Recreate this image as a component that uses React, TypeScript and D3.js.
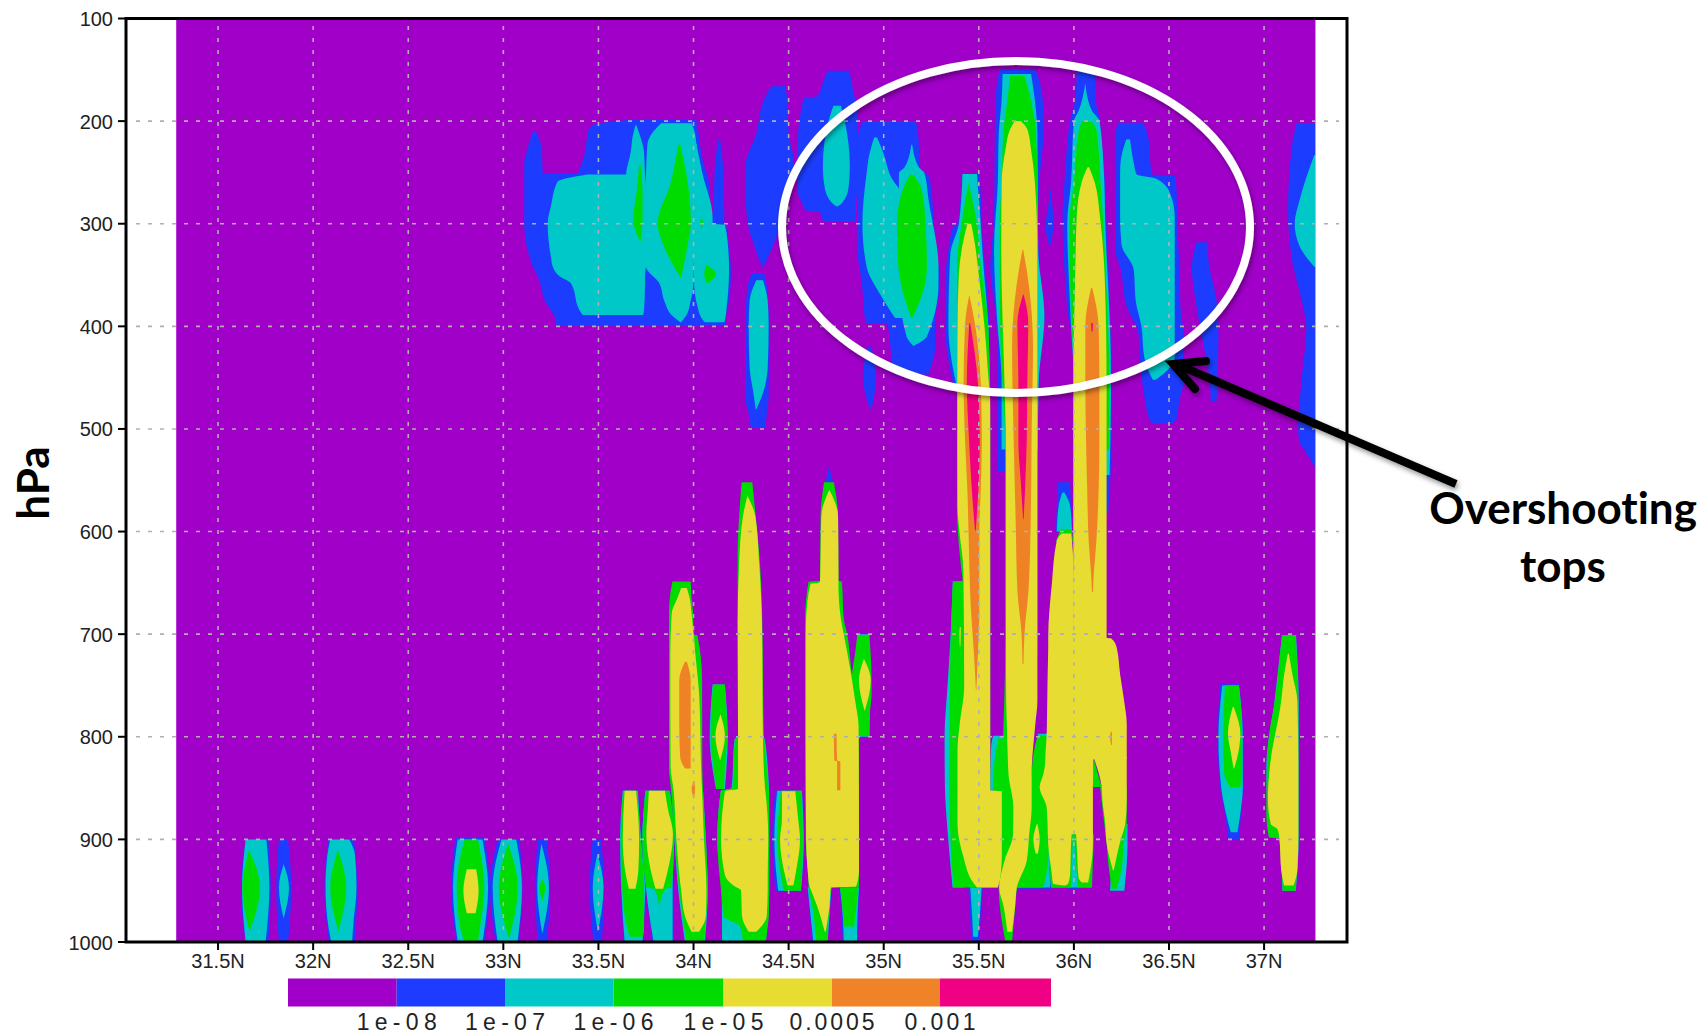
import React from "react";
import * as d3 from "d3";

type Row = [number, number, number]; // [hPa, west latitude, east latitude]

const latTicks = [31.5, 32, 32.5, 33, 33.5, 34, 34.5, 35, 35.5, 36, 36.5, 37];
const latLabels = ["31.5N", "32N", "32.5N", "33N", "33.5N", "34N", "34.5N", "35N", "35.5N", "36N", "36.5N", "37N"];
const pressureTicks = [100, 200, 300, 400, 500, 600, 700, 800, 900, 1000];
const levelLabels = ["1e-08", "1e-07", "1e-06", "1e-05", "0.0005", "0.001"];
const levelColors = ["#a000c8", "#1e3cff", "#00c8c8", "#00dc00", "#e6dc32", "#f08228", "#f00082"];

const blueCells: Row[][] = [
  [[900,31.645,31.765],[947,31.62,31.777],[1000,31.645,31.765]],
  [[900,31.82,31.868],[947,31.806,31.885],[1000,31.82,31.868]],
  [[900,32.08,32.215],[947,32.06,32.232],[1000,32.083,32.218]],
  [[898,32.75,32.9],[947,32.725,32.928],[1000,32.753,32.9]],
  [[900,32.97,33.085],[947,32.93,33.1],[1000,32.96,33.08]],
  [[900,33.18,33.228],[947,33.167,33.246],[1000,33.18,33.23]],
  [[900,33.47,33.514],[947,33.453,33.53],[1000,33.474,33.518]],
  [[852.6,33.628,33.707],[900,33.614,33.724],[948,33.618,33.745],[1000,33.635,33.735]],
  [[852.6,33.745,33.877],[900,33.729,33.9],[948,33.75,33.893],[1000,33.785,33.893]],
  [[852.6,34.43,34.57],[900,34.414,34.58],[950,34.43,34.565]],
  [[536,34.712,34.712],[552,34.694,34.733]],
  [[947,34.6,34.725],[1000,34.625,34.705]],
  [[947,34.77,34.87],[1000,34.785,34.865]],
  [[947,35.445,35.52],[975,35.455,35.51],[1000,35.46,35.5]],
  [[920,35.975,36.03],[948,35.965,36.03]],
  [[900,35.8,35.875],[948,35.69,35.885]],
  [[748.7,36.771,36.868],[800,36.755,36.89],[850,36.77,36.89],[870,36.79,36.88],[900,36.812,36.87]],
  [[210,33.155,33.17],[225,33.13,33.2],[241,33.11,33.205],[251,33.11,33.207],[251.5,33.11,34.075],[280,33.11,34.09],[299.6,33.11,34.115],[300,33.11,34.17],[332,33.137,34.19],[342,33.155,34.196],[351,33.18,34.196],[377,33.224,34.185],[390,33.268,34.172],[399.4,33.28,34.17]],
  [[199,33.655,34.015],[204,33.47,34.018],[210,33.445,34.025],[230,33.43,34.04],[252,33.39,34.07]],
  [[218,34.13,34.14],[245,34.112,34.155],[300,34.105,34.162]],
  [[348,34.31,34.37],[360,34.285,34.385],[400,34.272,34.397],[470,34.272,34.395],[485,34.29,34.385],[499,34.302,34.38]],
  [[166,34.41,34.485],[175,34.38,34.49],[215,34.325,34.503],[241,34.275,34.529],[262,34.272,34.52],[300,34.285,34.46],[316,34.31,34.43],[342,34.36,34.368]],
  [[151,34.705,34.815],[160,34.685,34.83],[176,34.65,34.845],[177,34.585,34.85],[190,34.565,34.86],[221,34.548,34.862],[267,34.546,34.86],[280,34.57,34.855],[287,34.59,34.855],[288,34.66,34.855],[298,34.68,34.85]],
  [[200,34.89,35.165],[204,34.88,35.175],[218,34.862,35.183],[245,34.862,35.19],[255,34.862,35.24],[325,34.862,35.275],[358,34.885,35.297],[397,34.905,35.27],[398,35.02,35.27],[420,35.035,35.27],[447,35.05,35.235]],
  [[420,34.915,34.935],[449,34.89,34.96],[481,34.93,34.935]],
  [[251.6,35.411,35.503],[300,35.39,35.516],[303,35.365,35.516],[325,35.34,35.525],[355,35.325,35.54],[400,35.323,35.555],[460,35.37,35.56]],
  [[150,35.612,35.796],[163,35.595,35.822],[200,35.585,35.843],[270,35.582,35.815],[300,35.578,35.81],[342,35.56,35.82],[390,35.59,35.845],[450,35.6,35.815],[500,35.597,35.81],[542,35.6,35.81]],
  [[267,35.875,35.878],[290,35.86,35.89],[300,35.85,35.892],[322,35.872,35.876]],
  [[152,36.015,36.111],[180,36.006,36.115],[200,35.98,36.137],[228,35.962,36.145],[260,35.95,36.165],[293,35.94,36.17],[358,35.955,36.185],[390,35.97,36.19],[420,36.0,36.195],[500,36.0,36.2],[583,36.0,36.18]],
  [[552,35.915,35.98],[600,35.905,35.99]],
  [[201.5,36.234,36.365],[215,36.216,36.39],[252,36.216,36.41],[253,36.216,36.535],[325,36.216,36.55],[342,36.243,36.555],[381,36.278,36.56],[407,36.339,36.575],[433,36.348,36.575],[455,36.36,36.575],[472,36.374,36.555],[490,36.395,36.54],[495,36.41,36.52]],
  [[318,36.645,36.7],[342,36.62,36.712],[375,36.64,36.75],[407,36.67,36.76],[455,36.715,36.755],[473,36.72,36.75]],
  [[202,37.17,37.27],[228,37.144,37.27],[286,37.126,37.27],[332,37.144,37.27],[381,37.205,37.27],[400,37.222,37.27],[455,37.196,37.27],[499,37.179,37.27],[512,37.185,37.27],[521,37.214,37.27],[537,37.268,37.27]],
];

const cyanCells: Row[][] = [
  [[900,31.645,31.754],[947,31.626,31.77],[1000,31.645,31.75]],
  [[924,31.845,31.845],[947,31.82,31.873],[977,31.845,31.845]],
  [[900,32.09,32.19],[915,32.075,32.22],[947,32.065,32.228],[985,32.08,32.21],[1000,32.095,32.205]],
  [[900,32.76,32.89],[947,32.735,32.92],[1000,32.76,32.89]],
  [[900,32.99,33.068],[947,32.944,33.098],[1000,32.97,33.075]],
  [[904,33.2,33.2],[947,33.178,33.24],[992,33.205,33.205]],
  [[914,33.495,33.495],[947,33.47,33.527],[990,33.497,33.497]],
  [[852.6,33.628,33.707],[900,33.614,33.724],[948,33.62,33.745],[1000,33.638,33.732]],
  [[852.6,33.747,33.875],[900,33.731,33.898],[948,33.75,33.89],[1000,33.79,33.89]],
  [[852,33.885,34.05],[900,33.9,34.065],[950,33.92,34.075],[1000,33.955,34.06]],
  [[749,34.1,34.165],[800,34.085,34.18],[851,34.118,34.165]],
  [[800,34.232,34.37],[803,34.215,34.375],[850,34.2,34.397],[853,34.143,34.398],[900,34.125,34.398],[950,34.148,34.398],[1000,34.15,34.38]],
  [[852.6,34.44,34.57],[900,34.425,34.58],[950,34.445,34.565]],
  [[947,34.6,34.725],[1000,34.63,34.705]],
  [[947,34.77,34.87],[975,34.785,34.862],[1000,34.79,34.86]],
  [[700,34.86,34.925],[800,34.87,34.925]],
  [[648.7,35.363,35.42],[700,35.352,35.42],[752,35.335,35.42],[800,35.32,35.42],[850,35.322,35.42],[885,35.333,35.42],[947,35.362,35.42]],
  [[799,35.575,35.66],[810,35.565,35.66],[852,35.56,35.66],[853,35.6,35.66],[880,35.625,35.66],[925,35.615,35.65]],
  [[797,35.81,35.86],[880,35.8,35.865],[947,35.69,35.875]],
  [[947,35.455,35.515],[975,35.465,35.505],[995,35.47,35.495]],
  [[562,35.94,35.95],[575,35.92,35.98],[600,35.91,35.99]],
  [[895,35.86,36.1],[947,35.88,36.09]],
  [[885,36.2,36.282],[905,36.2,36.282],[950,36.19,36.265]],
  [[750,36.78,36.868],[800,36.76,36.888],[850,36.775,36.888],[875,36.8,36.875],[893,36.825,36.86]],
  [[701,37.094,37.168],[765,37.055,37.182],[830,37.012,37.182],[898,37.025,37.182],[899,37.08,37.182],[950,37.096,37.167]],
  [[252,33.44,33.65],[259,33.285,33.66],[283,33.25,33.76],[300,33.233,33.76],[332,33.25,33.76],[342,33.26,33.75],[351,33.294,33.745],[358,33.355,33.745],[384,33.4,33.74],[389,33.417,33.735]],
  [[204,33.695,33.7],[215,33.68,33.72],[230,33.67,33.74],[252,33.645,33.745],[283,33.64,33.76]],
  [[202,33.83,33.99],[210,33.79,34.005],[222,33.758,34.015],[252,33.75,34.03],[300,33.74,34.06],[342,33.75,34.0],[358,33.82,34.0],[375,33.846,33.985],[390,33.89,33.96],[396,33.93,33.935]],
  [[222,34.01,34.015],[251,34.0,34.047],[293,34.0,34.1],[300,34.0,34.1],[301,34.0,34.165],[332,34.0,34.185],[342,34.0,34.187],[358,34.003,34.185],[380,34.02,34.175],[394,34.05,34.165],[396,34.06,34.16]],
  [[355,34.33,34.365],[375,34.295,34.39],[400,34.29,34.395],[440,34.295,34.39],[465,34.315,34.365],[481,34.327,34.33]],
  [[185,34.735,34.775],[200,34.71,34.795],[244,34.68,34.822],[265,34.69,34.815],[280,34.73,34.78],[283,34.75,34.76]],
  [[216,34.95,34.965],[232,34.925,35.0],[251,34.91,35.03],[300,34.888,35.2],[342,34.91,35.2],[370,34.985,35.15],[392,35.06,35.1]],
  [[223,35.145,35.15],[245,35.11,35.185],[251,35.08,35.215],[277,35.08,35.236],[342,35.08,35.288],[358,35.08,35.288],[410,35.12,35.227],[419,35.155,35.16]],
  [[251.6,35.414,35.49],[300,35.395,35.51],[330,35.35,35.52],[400,35.34,35.55],[460,35.385,35.558]],
  [[154,35.625,35.775],[180,35.62,35.795],[212,35.605,35.808],[260,35.6,35.81],[325,35.58,35.812],[390,35.595,35.845],[455,35.62,35.815],[520,35.62,35.81]],
  [[163,36.06,36.06],[190,36.025,36.095],[200,36.0,36.135],[260,35.985,36.16],[300,35.965,36.165],[360,35.975,36.18],[400,35.985,36.19],[455,36.0,36.195],[545,36.0,36.188]],
  [[218,36.275,36.295],[241,36.245,36.315],[252,36.243,36.33],[256,36.243,36.43],[270,36.243,36.505],[293,36.243,36.53],[320,36.25,36.53],[345,36.315,36.53],[375,36.325,36.53],[400,36.355,36.53],[430,36.37,36.53],[440,36.385,36.505],[452,36.415,36.43]],
  [[233,37.264,37.27],[277,37.187,37.27],[300,37.161,37.27],[322,37.187,37.27],[342,37.264,37.27]],
];

const greenCells: Row[][] = [
  [[910,31.663,31.663],[947,31.628,31.72],[990,31.666,31.666]],
  [[910,32.13,32.13],[947,32.09,32.174],[990,32.133,32.133]],
  [[900,32.796,32.866],[924,32.766,32.89],[947,32.755,32.9],[983,32.77,32.88],[1000,32.796,32.866]],
  [[904,33.025,33.025],[947,32.976,33.076],[997,33.03,33.03]],
  [[939,33.205,33.205],[947,33.19,33.22],[960,33.205,33.205]],
  [[852.6,33.63,33.705],[900,33.617,33.722],[948,33.625,33.74],[985,33.65,33.74],[995,33.665,33.735]],
  [[852.6,33.747,33.875],[900,33.731,33.898],[947,33.752,33.885],[948.5,33.795,33.85],[966,33.82,33.82]],
  [[648.7,33.889,33.985],[665,33.875,33.99],[680,33.871,33.998],[700,33.871,34.0],[701,33.871,34.02],[745,33.871,34.045],[830,33.871,34.046],[852,33.882,34.05],[900,33.9,34.065],[950,33.925,34.075],[990,33.955,34.06],[1000,33.965,34.058]],
  [[749,34.103,34.165],[800,34.09,34.177],[830,34.105,34.165],[851,34.12,34.16]],
  [[552,34.253,34.309],[585,34.24,34.327],[620,34.232,34.345],[675,34.232,34.36],[800,34.234,34.37],[803,34.218,34.372],[850,34.205,34.395],[853,34.143,34.397],[900,34.125,34.398],[950,34.145,34.398],[975,34.16,34.396],[985,34.245,34.39],[1000,34.26,34.38]],
  [[852.6,34.46,34.568],[900,34.44,34.575],[950,34.475,34.565]],
  [[552,34.686,34.738],[585,34.668,34.76],[648,34.665,34.763],[649,34.605,34.78],[685,34.587,34.79],[700,34.587,34.808],[735,34.587,34.83],[765,34.587,34.85],[800,34.587,34.87],[900,34.59,34.87],[946.5,34.605,34.87],[947,34.605,34.725],[965,34.625,34.715],[1000,34.645,34.703]],
  [[947,34.77,34.865],[960,34.78,34.86],[985,34.79,34.845]],
  [[701,34.861,34.922],[715,34.852,34.93],[745,34.832,34.936],[760,34.84,34.936],[775,34.85,34.928],[799,34.868,34.925]],
  [[260.6,35.445,35.447],[300,35.41,35.49],[340,35.385,35.51],[400,35.385,35.55],[460,35.387,35.558],[500,35.387,35.56],[576,35.385,35.56],[600,35.39,35.56],[640,35.41,35.56],[648,35.415,35.56],[649,35.365,35.56],[675,35.358,35.56],[752,35.348,35.56],[852,35.345,35.56],[885,35.348,35.6],[947,35.367,35.6]],
  [[156,35.665,35.74],[180,35.65,35.775],[210,35.63,35.8],[260,35.62,35.808],[300,35.61,35.808],[400,35.612,35.808],[455,35.625,35.808],[520,35.64,35.808],[700,35.64,35.808],[947,35.605,35.7],[1000,35.64,35.675]],
  [[802,35.6,35.66],[830,35.58,35.67],[852,35.575,35.67],[860,35.62,35.685],[880,35.65,35.685],[895,35.66,35.68],[921,35.64,35.66],[945,35.61,35.64]],
  [[799,35.81,35.857],[805,35.8,35.86],[850,35.77,35.86],[895,35.75,35.87],[920,35.72,35.865],[947,35.695,35.84]],
  [[200,36.045,36.09],[210,36.025,36.12],[260,36.0,36.14],[300,35.975,36.155],[360,35.98,36.17],[400,35.99,36.18],[450,36.0,36.185],[520,36.0,36.185]],
  [[598,35.93,35.99],[610,35.905,35.995]],
  [[822,36.103,36.105],[849,36.1,36.146]],
  [[895,35.86,35.995],[947,35.88,35.985]],
  [[895,36.0,36.105],[947,36.02,36.095]],
  [[849,36.138,36.278],[885,36.16,36.278],[900,36.17,36.265],[930,36.185,36.25],[948,36.2,36.225]],
  [[750,36.795,36.868],[800,36.785,36.885],[835,36.79,36.885],[849,36.82,36.875]],
  [[701,37.096,37.166],[714,37.087,37.17],[765,37.057,37.18],[797,37.027,37.18],[830,37.015,37.18],[875,37.012,37.18],[898,37.026,37.18],[899,37.082,37.18],[950,37.098,37.165]],
  [[241,33.715,33.72],[270,33.7,33.732],[296,33.683,33.732],[317,33.718,33.722]],
  [[223,33.92,33.93],[260,33.88,33.97],[300,33.811,33.986],[320,33.84,33.97],[352,33.93,33.935]],
  [[296,34.035,34.05],[305,34.04,34.045]],
  [[340,34.068,34.07],[349,34.056,34.117],[358,34.07,34.075]],
  [[252,35.14,35.155],[267,35.1,35.2],[300,35.07,35.22],[342,35.077,35.227],[358,35.09,35.218],[392,35.145,35.15]],
];

const yellowCells: Row[][] = [
  [[929,32.808,32.857],[950,32.79,32.87],[972,32.808,32.854]],
  [[852.6,33.638,33.698],[900,33.628,33.714],[930,33.64,33.71],[948,33.66,33.695]],
  [[852.6,33.765,33.85],[870,33.76,33.865],[895,33.752,33.892],[930,33.775,33.865],[948,33.8,33.84]],
  [[655,33.935,33.965],[665,33.915,33.98],[680,33.885,33.99],[720,33.878,34.01],[760,33.878,34.03],[830,33.88,34.04],[852,33.895,34.045],[900,33.91,34.055],[950,33.935,34.068],[975,33.955,34.065],[990,33.99,34.03]],
  [[778,34.142,34.142],[799,34.115,34.165],[823,34.14,34.14]],
  [[565,34.283,34.283],[585,34.26,34.325],[630,34.24,34.345],[690,34.232,34.36],[800,34.234,34.365],[851,34.234,34.376],[853,34.165,34.378],[900,34.145,34.393],[935,34.165,34.39],[945,34.21,34.39],[950,34.25,34.39],[975,34.255,34.385],[990,34.29,34.33]],
  [[853,34.465,34.535],[880,34.465,34.55],[900,34.455,34.56],[930,34.475,34.54],[945,34.495,34.525]],
  [[560,34.712,34.716],[585,34.672,34.76],[650,34.665,34.762],[651,34.615,34.762],[685,34.592,34.775],[700,34.59,34.79],[735,34.59,34.825],[765,34.59,34.85],[790,34.59,34.868],[900,34.592,34.87],[930,34.6,34.87],[946,34.61,34.855],[947,34.612,34.722],[965,34.65,34.715],[990,34.69,34.695]],
  [[724,34.896,34.896],[745,34.87,34.932],[775,34.9,34.9]],
  [[300,35.44,35.46],[320,35.415,35.48],[350,35.395,35.5],[400,35.388,35.53],[460,35.387,35.555],[470,35.387,35.56],[576,35.388,35.56],[600,35.398,35.56],[638,35.419,35.56],[752,35.423,35.56],[784,35.402,35.56],[814,35.388,35.56],[852,35.388,35.56],[853,35.388,35.621],[885,35.388,35.621],[917,35.419,35.621],[940,35.463,35.61],[947,35.49,35.6]],
  [[693,35.4,35.405],[700,35.398,35.405],[712,35.4,35.403]],
  [[200,35.69,35.72],[208,35.665,35.755],[228,35.64,35.775],[260,35.62,35.795],[325,35.618,35.808],[455,35.635,35.808],[512,35.642,35.808],[674,35.642,35.808],[765,35.644,35.808],[790,35.648,35.796],[836,35.656,35.778],[869,35.682,35.778],[895,35.68,35.765],[921,35.635,35.752],[947,35.607,35.7],[965,35.63,35.691],[990,35.65,35.675]],
  [[885,35.805,35.808],[900,35.787,35.82],[914,35.8,35.81]],
  [[245,36.072,36.08],[260,36.04,36.11],[293,36.015,36.137],[358,36.006,36.163],[455,35.997,36.172],[705,35.997,36.172]],
  [[602,35.935,35.985],[609,35.91,35.99],[651,35.884,36.0],[703,35.865,36.0],[704,35.865,36.195],[713,35.865,36.225],[739,35.862,36.243],[765,35.86,36.264],[788,35.858,36.278],[797,35.857,36.278],[821.5,35.85,36.278],[822,35.85,36.102],[836,35.84,36.102],[849,35.82,36.1],[869,35.857,36.1],[895,35.863,36.1]],
  [[820,36.103,36.278],[849,36.146,36.278],[862,36.15,36.278],[885,36.165,36.27],[901,36.17,36.245],[930,36.205,36.21]],
  [[892,35.863,35.989],[905,35.865,35.985],[934,35.884,35.98],[943,35.89,35.97],[945,35.945,35.955]],
  [[892,36.01,36.1],[905,36.015,36.1],[937,36.024,36.08],[942,36.04,36.075]],
  [[771,36.835,36.84],[797,36.81,36.875],[815,36.825,36.865],[831,36.84,36.843]],
  [[719,37.125,37.13],[740,37.105,37.15],[765,37.09,37.175],[830,37.03,37.18],[860,37.02,37.18],[885,37.035,37.18],[890,37.07,37.18],[898,37.08,37.18],[930,37.09,37.175],[945,37.105,37.155]],
];

const orangeCells: Row[][] = [
  [[727,33.955,33.965],[745,33.925,33.985],[790,33.925,33.985],[820,33.93,33.985],[831,33.955,33.985]],
  [[843,34.0,34.005],[850,33.99,34.008],[860,34.0,34.004]],
  [[797,34.738,34.752],[823,34.74,34.755],[824,34.755,34.772],[852,34.755,34.772]],
  [[369.5,35.45,35.45],[398,35.428,35.48],[455,35.42,35.51],[512,35.428,35.516],[560,35.44,35.51],[600,35.446,35.503],[674,35.458,35.503],[720,35.475,35.495],[755,35.485,35.487]],
  [[325,35.73,35.733],[358,35.7,35.762],[420,35.675,35.785],[500,35.682,35.778],[590,35.694,35.773],[658,35.703,35.761],[700,35.725,35.74],[729,35.73,35.735]],
  [[363,36.09,36.097],[400,36.06,36.13],[455,36.06,36.134],[512,36.064,36.134],[560,36.07,36.13],[610,36.078,36.118],[640,36.09,36.105],[659,36.095,36.1]],
  [[795,36.195,36.2],[800,36.19,36.2],[808,36.196,36.2]],
];

const pinkCells: Row[][] = [
  [[397,35.45,35.455],[455,35.437,35.495],[512,35.449,35.505],[550,35.46,35.5],[599,35.48,35.484]],
  [[369,35.733,35.736],[397,35.703,35.76],[455,35.708,35.755],[512,35.708,35.752],[550,35.72,35.745],[588,35.733,35.736]],
  [[397,36.09,36.1],[405,36.092,36.098]],
];

const layers = [blueCells, cyanCells, greenCells, yellowCells, orangeCells, pinkCells];

const x = d3.scaleLinear().domain([31.016, 37.436]).range([126, 1347]);
const y = d3.scaleLinear().domain([100, 1000]).range([18.5, 942]);
const legend = d3.scaleLinear().domain([0, 1, 2, 3, 4, 5, 6, 7]).range([288, 396.7, 505, 613.5, 723.5, 832, 940, 1051]);

const cellPath = d3.area<Row>().x0((r) => x(r[1])).x1((r) => x(r[2])).y((r) => y(r[0])).curve(d3.curveMonotoneY);

const TICK_FONT = "'Liberation Sans', Arial, sans-serif";
const NOTE_FONT = "Lato, 'Open Sans', sans-serif";
const noLigatures = { fontVariantLigatures: "none" } as const;

export default function App() {
  return (
    <svg width={1704} height={1035} style={{ position: "absolute", left: 0, top: 0, display: "block", background: "#fff" }}>
      <defs>
        <clipPath id="plot"><rect x={x(31.28)} y={y(100)} width={x(37.27) - x(31.28)} height={y(1000) - y(100)} /></clipPath>
        <filter id="soft" x="-10%" y="-10%" width="120%" height="120%">
          <feDropShadow dx="1.5" dy="3" stdDeviation="2.5" floodColor="#000" floodOpacity="0.4" />
        </filter>
        <filter id="lowres" x="0" y="0" width="100%" height="100%">
          <feGaussianBlur stdDeviation="0.6" />
        </filter>
      </defs>

      <g clipPath="url(#plot)">
        <g filter="url(#lowres)">
          <rect x={x(31.28) - 4} y={y(100) - 4} width={x(37.27) - x(31.28) + 8} height={y(1000) - y(100) + 8} fill={levelColors[0]} />
          {layers.map((cells, i) => (
            <g key={i} fill={levelColors[i + 1]}>
              {cells.map((rows, j) => <path key={j} d={cellPath(rows) ?? ""} />)}
            </g>
          ))}
        </g>
      </g>

      <g stroke="#b0b0b0" strokeWidth={1.6} strokeDasharray="4 8">
        {latTicks.map((t) => <line key={t} x1={x(t)} x2={x(t)} y1={26} y2={934} />)}
        {pressureTicks.slice(1, -1).map((t) => <line key={t} x1={136} x2={1339} y1={y(t)} y2={y(t)} />)}
      </g>

      <rect x={x(31.016)} y={y(100)} width={x(37.436) - x(31.016)} height={y(1000) - y(100)} fill="none" stroke="#000" strokeWidth={3} />
      <g stroke="#000" strokeWidth={2}>
        {latTicks.map((t) => <line key={t} x1={x(t)} x2={x(t)} y1={942} y2={950} />)}
        {pressureTicks.map((t) => <line key={t} x1={118} x2={126} y1={y(t)} y2={y(t)} />)}
      </g>

      <g fontFamily={TICK_FONT} fontSize={20} fill="#222">
        {latTicks.map((t, i) => <text key={t} x={x(t)} y={968} textAnchor="middle">{latLabels[i]}</text>)}
        {pressureTicks.map((t) => <text key={t} x={113} y={y(t) + 7.5} textAnchor="end">{t}</text>)}
      </g>

      {levelColors.map((c, i) => (
        <rect key={c} x={legend(i)} y={978.5} width={legend(i + 1) - legend(i)} height={28} fill={c} />
      ))}
      <g fontFamily={TICK_FONT} fontSize={23} fill="#222">
        {levelLabels.map((l, i) => (
          <text key={l} x={legend(i + 1)} y={1030} textAnchor="middle" textLength={l.startsWith("1e") ? 80 : l.length * 14.2} lengthAdjust="spacing">{l}</text>
        ))}
      </g>

      <ellipse cx={1016} cy={227} rx={234} ry={166} fill="none" stroke="#fff" strokeWidth={8} filter="url(#soft)" />

      <g stroke="#000" strokeWidth={8} fill="none" filter="url(#soft)">
        <line x1={1456} y1={484} x2={1176} y2={364} />
        <polyline points="1206,361 1173,364 1195,389" strokeLinecap="round" strokeLinejoin="miter" />
      </g>

      <text transform="translate(49,483) rotate(-90)" textAnchor="middle" fontFamily={NOTE_FONT} fontWeight={700} fontSize={44} fill="#000">hPa</text>
      <text x={1563} y={524} textAnchor="middle" fontFamily={NOTE_FONT} fontWeight={700} fontSize={44} fill="#000" style={noLigatures}>Overshooting</text>
      <text x={1563} y={582} textAnchor="middle" fontFamily={NOTE_FONT} fontWeight={700} fontSize={44} fill="#000" style={noLigatures}>tops</text>
    </svg>
  );
}
